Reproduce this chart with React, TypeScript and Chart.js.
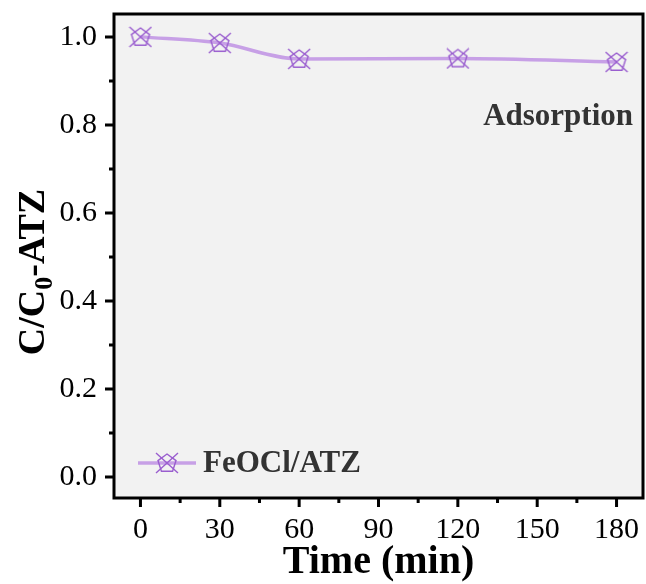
import React, { useEffect, useRef } from "react";
import { Chart, registerables } from "chart.js";

Chart.register(...registerables);

const timeMin = [0, 30, 60, 120, 180];
const ratioC = [1.0, 0.986, 0.95, 0.951, 0.943];
const xMajorTicks = [0, 30, 60, 90, 120, 150, 180];
const xMinorTicks = [15, 45, 75, 105, 135, 165];
const yMajorTicks = [0, 0.2, 0.4, 0.6, 0.8, 1.0];
const yMinorTicks = [0.1, 0.3, 0.5, 0.7, 0.9];
const seriesLabel = "FeOCl/ATZ";
const noteText = "Adsorption";

const LINE_COLOR = "#c7a0e6";
const MARK_COLOR = "#9a5ecf";
const SERIF = "'Liberation Serif', 'Times New Roman', serif";

function makeMarker(): HTMLCanvasElement {
  const w = 24, h = 22;
  const c = document.createElement("canvas");
  c.width = w; c.height = h;
  const ctx = c.getContext("2d")!;
  ctx.strokeStyle = MARK_COLOR;
  ctx.lineWidth = 1.4;
  const cx = w / 2, cy = h / 2 + 0.5, r = 9.5;
  ctx.beginPath();
  for (let i = 0; i < 5; i++) {
    const a = -Math.PI / 2 + (i * 2 * Math.PI) / 5;
    const px = cx + r * Math.cos(a), py = cy + r * Math.sin(a);
    if (i === 0) ctx.moveTo(px, py); else ctx.lineTo(px, py);
  }
  ctx.closePath();
  ctx.stroke();
  ctx.beginPath();
  ctx.moveTo(1, 1); ctx.lineTo(w - 1, h - 1);
  ctx.moveTo(w - 1, 1); ctx.lineTo(1, h - 1);
  ctx.stroke();
  return c;
}

export default function App() {
  const ref = useRef<HTMLCanvasElement>(null);
  useEffect(() => {
    const marker = makeMarker();
    const deco = {
      id: "deco",
      beforeDatasetsDraw(chart: any) {
        const { ctx, chartArea: a } = chart;
        ctx.save();
        ctx.fillStyle = "#f2f2f2";
        ctx.fillRect(a.left, a.top, a.right - a.left, a.bottom - a.top);
        ctx.restore();
      },
      afterDraw(chart: any) {
        const { ctx, chartArea: a, scales } = chart;
        const xs = scales.x, ys = scales.y;
        ctx.save();
        ctx.strokeStyle = "#000";
        ctx.lineWidth = 3;
        ctx.strokeRect(a.left, a.top, a.right - a.left, a.bottom - a.top);
        ctx.lineWidth = 3;
        ctx.beginPath();
        xMajorTicks.forEach((v) => { const p = xs.getPixelForValue(v); ctx.moveTo(p, a.bottom); ctx.lineTo(p, a.bottom + 9); });
        xMinorTicks.forEach((v) => { const p = xs.getPixelForValue(v); ctx.moveTo(p, a.bottom); ctx.lineTo(p, a.bottom + 5); });
        yMajorTicks.forEach((v) => { const p = ys.getPixelForValue(v); ctx.moveTo(a.left, p); ctx.lineTo(a.left - 9, p); });
        yMinorTicks.forEach((v) => { const p = ys.getPixelForValue(v); ctx.moveTo(a.left, p); ctx.lineTo(a.left - 5, p); });
        ctx.stroke();
        ctx.fillStyle = "#000";
        ctx.font = `bold 40px ${SERIF}`;
        ctx.textAlign = "center";
        ctx.textBaseline = "alphabetic";
        ctx.fillText("Time (min)", (a.left + a.right) / 2, 573);
        ctx.save();
        ctx.translate(44, (a.top + a.bottom) / 2 + 16);
        ctx.rotate(-Math.PI / 2);
        ctx.textAlign = "left";
        const big = `bold 38px ${SERIF}`;
        const small = `bold 26px ${SERIF}`;
        ctx.font = big; const w1 = ctx.measureText("C/C").width;
        ctx.font = small; const w2 = ctx.measureText("0").width;
        ctx.font = big; const w3 = ctx.measureText("-ATZ").width;
        let x0 = -(w1 + w2 + w3) / 2;
        ctx.font = big; ctx.fillText("C/C", x0, 0); x0 += w1;
        ctx.font = small; ctx.fillText("0", x0, 8); x0 += w2;
        ctx.font = big; ctx.fillText("-ATZ", x0, 0);
        ctx.restore();
        ctx.fillStyle = "#333";
        ctx.font = `bold 31px ${SERIF}`;
        ctx.textAlign = "right";
        ctx.fillText(noteText, a.right - 10, 125);
        ctx.strokeStyle = LINE_COLOR;
        ctx.lineWidth = 3.5;
        ctx.beginPath();
        ctx.moveTo(138, 463); ctx.lineTo(196, 463);
        ctx.stroke();
        ctx.drawImage(marker, 167 - marker.width / 2, 463 - marker.height / 2);
        ctx.fillStyle = "#333";
        ctx.textAlign = "left";
        ctx.fillText(seriesLabel, 203, 472);
        ctx.restore();
      },
    };
    const chart = new Chart(ref.current!, {
      type: "line",
      data: {
        datasets: [
          {
            label: seriesLabel,
            data: timeMin.map((t, i) => ({ x: t, y: ratioC[i] })),
            borderColor: LINE_COLOR,
            borderWidth: 3.5,
            cubicInterpolationMode: "monotone",
            pointStyle: marker as any,
            pointRadius: 11,
            fill: false,
          },
        ],
      },
      options: {
        responsive: false,
        animation: false,
        layout: { autoPadding: false, padding: { top: 14, right: 3, left: 0, bottom: 0 } },
        plugins: { legend: { display: false }, tooltip: { enabled: false } },
        scales: {
          x: {
            type: "linear",
            min: -10,
            max: 190,
            afterFit: (s: any) => { s.height = 86; s.paddingLeft = 0; s.paddingRight = 0; s.paddingTop = 0; s.paddingBottom = 0; },
            afterBuildTicks: (s: any) => { s.ticks = xMajorTicks.map((v) => ({ value: v })); },
            grid: { display: false, drawTicks: false },
            border: { display: false },
            ticks: { color: "#000", font: { family: SERIF, size: 30 }, padding: 14, maxRotation: 0, autoSkip: false },
          },
          y: {
            type: "linear",
            min: -0.048,
            max: 1.052,
            afterFit: (s: any) => { s.width = 114; s.paddingLeft = 0; s.paddingRight = 0; s.paddingTop = 0; s.paddingBottom = 0; },
            afterBuildTicks: (s: any) => { s.ticks = yMajorTicks.map((v) => ({ value: v })); },
            grid: { display: false, drawTicks: false },
            border: { display: false },
            ticks: { color: "#000", font: { family: SERIF, size: 30 }, padding: 17, callback: (v: any) => Number(v).toFixed(1) },
          },
        },
      },
      plugins: [deco],
    });
    return () => chart.destroy();
  }, []);
  return (
    <div style={{ position: "fixed", left: 0, top: 0, width: 646, height: 584, background: "#fff" }}>
      <canvas ref={ref} width={646} height={584} style={{ width: 646, height: 584 }} />
    </div>
  );
}
